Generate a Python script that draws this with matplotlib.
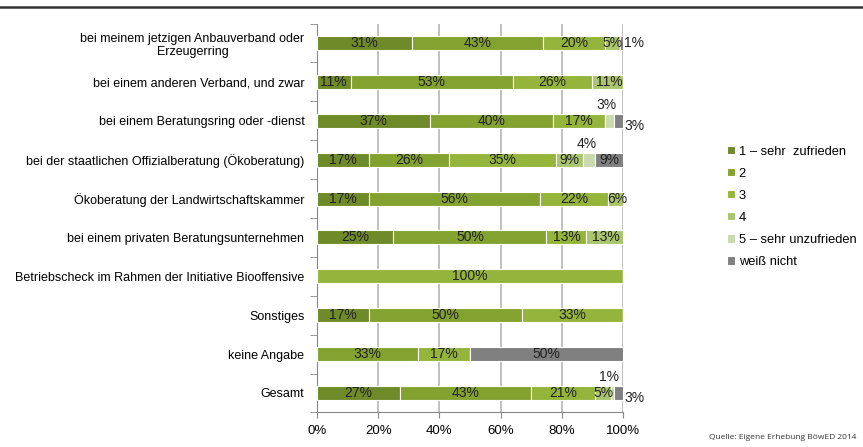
import matplotlib.pyplot as plt
import numpy as np

plt.rcParams['font.family'] = ['Liberation Sans', 'DejaVu Sans']

# Kategorien (von oben nach unten)
categories = [
    "bei meinem jetzigen Anbauverband oder\nErzeugerring",
    "bei einem anderen Verband, und zwar",
    "bei einem Beratungsring oder -dienst",
    "bei der staatlichen Offizialberatung (Ökoberatung)",
    "Ökoberatung der Landwirtschaftskammer",
    "bei einem privaten Beratungsunternehmen",
    "Betriebscheck im Rahmen der Initiative Biooffensive",
    "Sonstiges",
    "keine Angabe",
    "Gesamt",
]

series_names = ["1 – sehr  zufrieden", "2", "3", "4", "5 – sehr unzufrieden", "weiß nicht"]

# Prozentwerte je Antwortkategorie
s1 = [31, 11, 37, 17, 17, 25, 0, 17, 0, 27]
s2 = [43, 53, 40, 26, 56, 50, 0, 50, 33, 43]
s3 = [20, 26, 17, 35, 22, 13, 100, 33, 17, 21]
s4 = [5, 11, 0, 9, 6, 13, 0, 0, 0, 5]
s5 = [0, 0, 3, 4, 0, 0, 0, 0, 0, 1]
s_wn = [1, 0, 3, 9, 0, 0, 0, 0, 50, 3]

colors = ["#6f8a28", "#83a22f", "#94b43c", "#abc56e", "#cad9ae", "#808080"]

series = [s1, s2, s3, s4, s5, s_wn]

fig = plt.figure(figsize=(8.63, 4.47), dpi=100)
ax = fig.add_axes([0.3673, 0.0774, 0.3546, 0.8698])

y = np.arange(len(categories))
left = np.zeros(len(categories))
handles = []
for k, vals in enumerate(series):
    vals = np.array(vals, dtype=float)
    bars = ax.barh(y, vals, left=left, height=0.36, color=colors[k],
                   edgecolor="white", linewidth=0.8, zorder=3)
    handles.append(bars)
    for i, v in enumerate(vals):
        if v <= 0:
            continue
        cx = left[i] + v / 2
        if v >= 5:
            ax.text(cx, y[i], f"{int(v)}%", ha="center", va="center",
                    fontsize=10, color="#222222", zorder=4)
        elif k == 4:
            # kleine Werte der Kategorie 5 oberhalb des Balkens
            ax.text(cx - 1, y[i] - 0.41, f"{int(v)}%", ha="center", va="center",
                    fontsize=10, color="#222222", zorder=4)
        elif k == 5:
            dy = 0.14 if s5[i] > 0 else 0
            ax.text(left[i] + v + 0.3, y[i] + dy, f"{int(v)}%", ha="left", va="center",
                    fontsize=10, color="#222222", zorder=4)
    left = left + vals

ax.set_xlim(0, 100)
ax.set_ylim(len(categories) - 0.5, -0.5)
ax.set_xticks([0, 20, 40, 60, 80, 100])
ax.set_xticklabels(["0%", "20%", "40%", "60%", "80%", "100%"], fontsize=9.5)
ax.set_yticks(y)
ax.set_yticklabels(categories, fontsize=9)
ax.tick_params(axis="y", length=0, pad=9)
ax.set_yticks(np.arange(-0.5, len(categories), 1), minor=True)
ax.tick_params(axis="y", which="minor", length=5, color="#888888")
ax.tick_params(axis="x", length=4, color="#888888", pad=5)
for lab in ax.get_yticklabels():
    lab.set_multialignment("center")

ax.grid(axis="x", color="#b5b5b5", linewidth=1.2, zorder=0)
for sp in ["top", "right"]:
    ax.spines[sp].set_visible(False)
ax.spines["left"].set_color("#888888")
ax.spines["bottom"].set_color("#888888")

leg = fig.legend(handles, series_names, loc="upper left", bbox_to_anchor=(0.829, 0.70),
                 frameon=False, fontsize=9.3, handlelength=0.6, handleheight=0.6,
                 handletextpad=0.3, labelspacing=0.78)

# Linie oben
fig.add_artist(plt.Line2D([0, 1], [0.984, 0.984], color="#333333", linewidth=1.8))

fig.text(0.992, 0.022, "Quelle: Eigene Erhebung BöwED 2014", ha="right", va="center",
         fontsize=6, family=["Open Sans", "DejaVu Sans"], color="#333333")

fig.savefig("out.png", dpi=100)
